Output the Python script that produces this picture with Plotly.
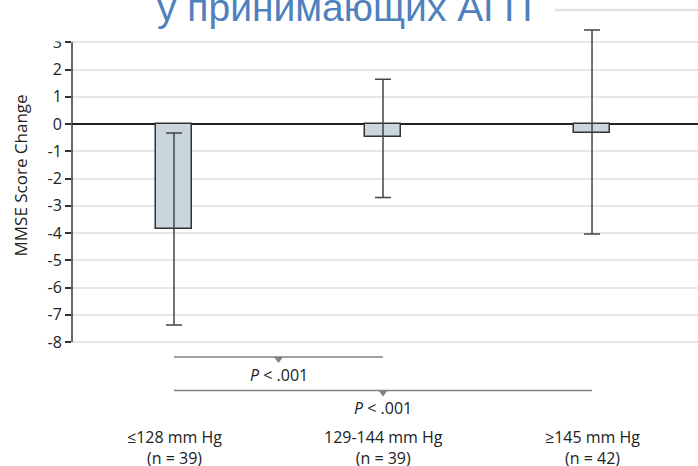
import plotly.graph_objects as go

# ---- data ----
categories = ["≤128 mm Hg", "129-144 mm Hg", "≥145 mm Hg"]
n_values = [39, 39, 42]
mean_change = [-3.85, -0.49, -0.32]
err_plus = [3.52, 2.13, 3.77]
err_minus = [3.53, 2.21, 3.72]
y_tick_vals = [-8, -7, -6, -5, -4, -3, -2, -1, 0, 1, 2, 3]
y_tick_text = ["-8", "-7", "-6", "-5", "-4", "-3", "-2", "-1", "0", "1", "2", "3"]
comparisons = [(0, 1, ".001"), (0, 2, ".001")]
title_text = "у принимающих АГП"
y_title = "MMSE Score Change"

# ---- layout geometry (pixels) ----
W, H = 698, 466
ML, MR, MT, MB = 72, 0, 20, 121
PW, PH = W - ML - MR, H - MT - MB


def px_x(p):
    return (p - ML) / PW


def px_y(p):
    return (H - MB - p) / PH


xs = list(range(len(categories)))
FONT = "'Open Sans', Lato, Arial, sans-serif"
TXT = "#222222"

fig = go.Figure()
fig.add_trace(go.Bar(
    x=xs, y=mean_change, width=0.172,
    marker=dict(color="#c9d6dd", line=dict(color="#333333", width=1.5)),
    error_y=dict(type="data", symmetric=False, array=err_plus, arrayminus=err_minus,
                 color="#444444", thickness=1.5, width=8),
    hoverinfo="skip", showlegend=False,
))

shapes = []
# y-axis line from -8 to 3
shapes.append(dict(type="line", xref="paper", yref="y", x0=0, x1=0,
                   y0=y_tick_vals[0], y1=y_tick_vals[-1],
                   line=dict(color="#333333", width=1.5), layer="above"))
# white cover (cropped screenshot look at top-left)
shapes.append(dict(type="rect", xref="paper", yref="paper", x0=px_x(0), x1=px_x(64),
                   y0=px_y(41.5), y1=px_y(-20), fillcolor="white", line=dict(width=0),
                   layer="above"))
# gray header line at top right
shapes.append(dict(type="line", xref="paper", yref="paper", x0=px_x(555), x1=1.0,
                   y0=px_y(10), y1=px_y(10), line=dict(color="#e2e2e2", width=2.5)))

annotations = []
annotations.append(dict(text=title_text, xref="paper", yref="paper", x=px_x(344), y=px_y(-16),
                        xanchor="center", yanchor="top", showarrow=False,
                        font=dict(family="Liberation Sans, Arial", size=39, color="#4f81bd")))
annotations.append(dict(text=y_title, xref="paper", yref="paper", x=px_x(20), y=px_y(175.5),
                        xanchor="center", yanchor="middle", textangle=-90, showarrow=False,
                        font=dict(family=FONT, size=17, color=TXT)))

bracket_y = [357, 390.5]
ptext_y = [375, 408]
for k, (a, b, pval) in enumerate(comparisons):
    shapes.append(dict(type="line", xref="x", yref="paper", x0=xs[a], x1=xs[b],
                       y0=px_y(bracket_y[k]), y1=px_y(bracket_y[k]),
                       line=dict(color="#808080", width=1.5)))
    mid = (xs[a] + xs[b]) / 2
    shapes.append(dict(type="path", xref="x", yref="paper", xsizemode="pixel", ysizemode="pixel",
                       xanchor=mid, yanchor=px_y(bracket_y[k]),
                       path="M -4.5 0 L 4.5 0 L 0 -6 Z", fillcolor="#808080",
                       line=dict(width=0)))
    annotations.append(dict(text=f"<i>P</i> &lt; {pval}", xref="x", yref="paper", x=mid,
                            y=px_y(ptext_y[k]), xanchor="center", yanchor="middle",
                            showarrow=False, font=dict(family=FONT, size=16, color=TXT)))

for i, (c, n) in enumerate(zip(categories, n_values)):
    annotations.append(dict(text=f"{c}<br>(n = {n})", xref="x", yref="paper", x=xs[i],
                            y=px_y(447), xanchor="center", yanchor="middle", showarrow=False,
                            font=dict(family=FONT, size=16, color=TXT)))

zero_px = 124
unit_px = 27.25
y_max = (zero_px - MT) / unit_px
y_min = -(H - MB - zero_px) / unit_px

fig.update_layout(
    width=W, height=H,
    margin=dict(l=ML, r=MR, t=MT, b=MB, pad=0),
    paper_bgcolor="white", plot_bgcolor="white",
    xaxis=dict(range=[-0.488, 2.507], showticklabels=False, showgrid=False,
               zeroline=False, showline=False, ticks="", fixedrange=True),
    yaxis=dict(range=[y_min, y_max], tickmode="array", tickvals=y_tick_vals,
               ticktext=y_tick_text, showgrid=True, gridcolor="#e6e6e6", gridwidth=1.5,
               zeroline=True, zerolinecolor="#222222", zerolinewidth=1.5,
               showline=False, ticks="outside", ticklen=6, tickwidth=1.5,
               tickcolor="#333333", tickfont=dict(family=FONT, size=16, color=TXT),
               fixedrange=True),
    shapes=shapes, annotations=annotations,
    bargap=0,
)

fig.write_html("out.html")
